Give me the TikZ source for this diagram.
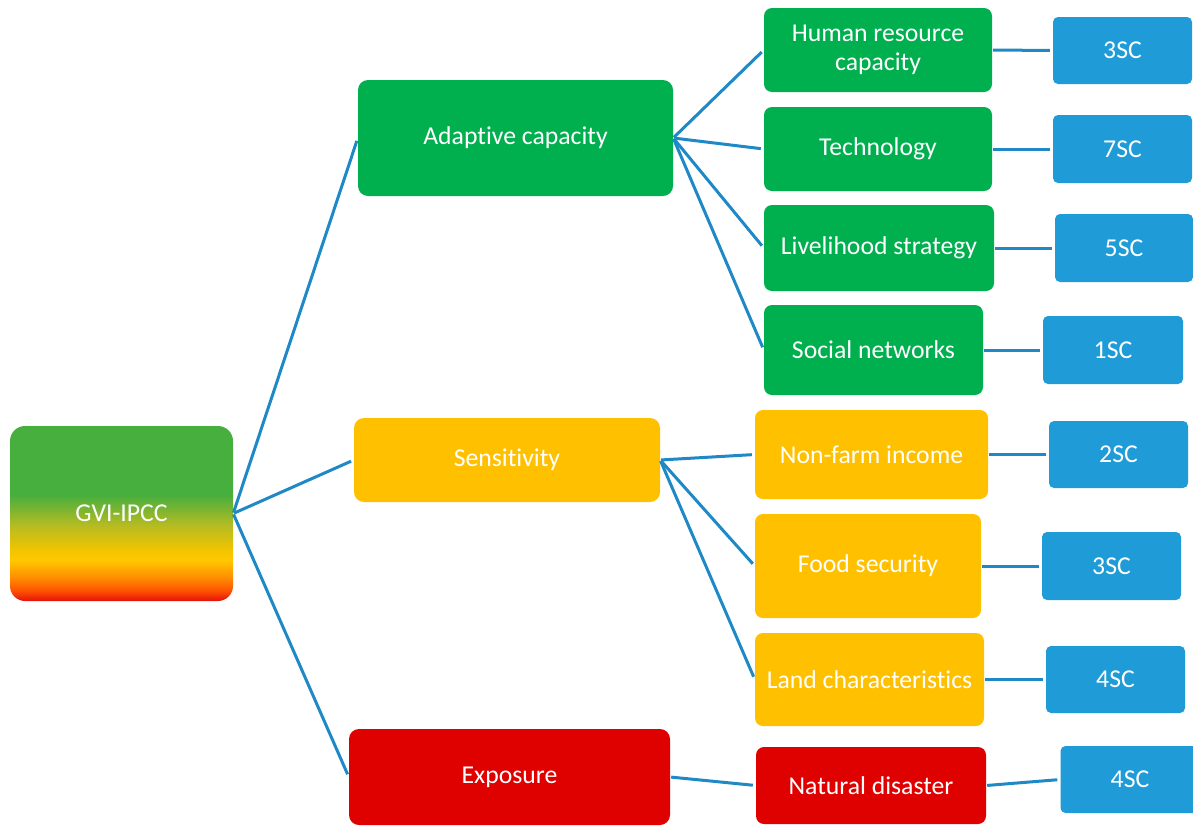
\documentclass[tikz,border=0pt]{standalone}
\usepackage{fontspec}
\setmainfont{Carlito}[Ligatures=NoCommon]
\definecolor{ggreen}{HTML}{47AF3E}
\definecolor{golive}{HTML}{B5BB22}
\definecolor{gyellow}{HTML}{FFC800}
\definecolor{gyellow2}{HTML}{F2C400}
\definecolor{gorange}{HTML}{FF8C00}
\definecolor{gorange2}{HTML}{FF5200}
\definecolor{gred}{HTML}{E3120B}
\definecolor{boxgreen}{HTML}{00B04F}
\definecolor{boxyellow}{HTML}{FFC000}
\definecolor{boxred}{HTML}{DF0000}
\definecolor{boxblue}{HTML}{1F9BD7}
\definecolor{linkblue}{HTML}{1E89C6}
\pgfdeclareverticalshading{gvishade}{100bp}{color(0bp)=(gred); color(25bp)=(gred); color(28bp)=(gorange2); color(31.6bp)=(gorange); color(36.7bp)=(gyellow); color(39.6bp)=(gyellow2); color(46.7bp)=(golive); color(55.3bp)=(ggreen); color(100bp)=(ggreen)}
\tikzset{
  base/.style={inner sep=0pt, text=white, align=center, font=\fontsize{25.7}{29}\selectfont},
  bignode/.style={base, rounded corners=10pt},
  subnode/.style={base, rounded corners=8pt},
  scnode/.style={base, fill=boxblue, rounded corners=5pt},
  link/.style={draw=linkblue, line width=3pt, shorten >=3pt, shorten <=1pt}
}
\begin{document}
\begin{tikzpicture}[x=1pt,y=-1pt]
\useasboundingbox (0,0) rectangle (1193,825);
\clip (0,0) rectangle (1193,825);
% root
\node[base, shading=gvishade, rounded corners=15pt, minimum width=223pt, minimum height=175pt] (gvi) at (121.5,513.5) {GVI-IPCC};
% level 1
\node[bignode, fill=boxgreen, minimum width=315pt, minimum height=116pt] (adapt) at (515.5,138) {Adaptive capacity};
\node[bignode, fill=boxyellow, minimum width=306pt, minimum height=84pt] (sens) at (507,460) {Sensitivity};
\node[bignode, fill=boxred, minimum width=321pt, minimum height=96pt] (expo) at (509.5,777) {Exposure};
% level 2
\node[subnode, fill=boxgreen, minimum width=228pt, minimum height=84pt] (hr) at (878,50) {Human resource\\capacity};
\node[subnode, fill=boxgreen, minimum width=228pt, minimum height=84pt] (tech) at (878,149) {Technology};
\node[subnode, fill=boxgreen, minimum width=230pt, minimum height=86pt] (live) at (879,248) {Livelihood strategy};
\node[subnode, fill=boxgreen, minimum width=219pt, minimum height=90pt] (soc) at (873.5,350) {Social networks};
\node[subnode, fill=boxyellow, minimum width=233pt, minimum height=89pt] (nonf) at (871.5,454.5) {Non-farm income};
\node[subnode, fill=boxyellow, minimum width=226pt, minimum height=104pt] (food) at (868,566) {Food security};
\node[subnode, fill=boxyellow, minimum width=229pt, minimum height=93pt] (land) at (869.5,679.5) {Land characteristics};
\node[subnode, fill=boxred, minimum width=230pt, minimum height=77pt] (nat) at (871,785.5) {Natural disaster};
% level 3
\node[scnode, minimum width=139pt, minimum height=67pt] (sc1) at (1122.5,50.5) {3SC};
\node[scnode, minimum width=139pt, minimum height=68pt] (sc2) at (1122.5,149) {7SC};
\node[scnode, minimum width=138pt, minimum height=68pt] (sc3) at (1124,248) {5SC};
\node[scnode, minimum width=140pt, minimum height=68pt] (sc4) at (1113,350) {1SC};
\node[scnode, minimum width=139pt, minimum height=67pt] (sc5) at (1118.5,454.5) {2SC};
\node[scnode, minimum width=139pt, minimum height=68pt] (sc6) at (1111.5,566) {3SC};
\node[scnode, minimum width=139pt, minimum height=67pt] (sc7) at (1115.5,679.5) {4SC};
\node[scnode, minimum width=139pt, minimum height=67pt] (sc8) at (1130,779.5) {4SC};
% connectors
\draw[link] (gvi.east) -- (adapt.west);
\draw[link] (gvi.east) -- (sens.west);
\draw[link] (gvi.east) -- (expo.west);
\draw[link] (adapt.east) -- (hr.west);
\draw[link] (adapt.east) -- (tech.west);
\draw[link] (adapt.east) -- (live.west);
\draw[link] (adapt.east) -- (soc.west);
\draw[link] (sens.east) -- (nonf.west);
\draw[link] (sens.east) -- (food.west);
\draw[link] (sens.east) -- (land.west);
\draw[link] (expo.east) -- (nat.west);
\draw[link] (hr.east) -- (sc1.west);
\draw[link] (tech.east) -- (sc2.west);
\draw[link] (live.east) -- (sc3.west);
\draw[link] (soc.east) -- (sc4.west);
\draw[link] (nonf.east) -- (sc5.west);
\draw[link] (food.east) -- (sc6.west);
\draw[link] (land.east) -- (sc7.west);
\draw[link] (nat.east) -- (sc8.west);
\end{tikzpicture}
\end{document}
